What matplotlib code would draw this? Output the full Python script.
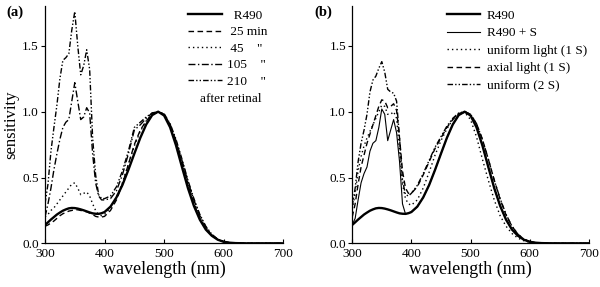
import matplotlib
matplotlib.use("Agg")
import matplotlib.pyplot as plt
from matplotlib.lines import Line2D

plt.rcParams['font.family'] = ['Liberation Serif', 'DejaVu Serif']

# wavelength grid (nm)
wl = [300, 305, 310, 315, 320, 325, 330, 335, 340, 345, 350, 355, 360, 365, 370, 375, 380, 385, 390, 395, 400,
      410, 420, 430, 440, 450, 460, 470, 480, 490, 500, 510, 520, 530, 540, 550, 560, 570, 580, 590, 600,
      610, 620, 630, 640, 650, 660, 670, 680, 690, 700]

tail0 = [0, 0, 0, 0, 0, 0, 0]

r490 = [0.140, 0.160, 0.181, 0.200, 0.219, 0.234, 0.248, 0.258, 0.266, 0.269, 0.268, 0.264, 0.258, 0.251, 0.243, 0.235, 0.228, 0.225, 0.224, 0.229, 0.238,
        0.279, 0.349, 0.443, 0.558, 0.681, 0.801, 0.903, 0.974, 1.0, 0.971, 0.882, 0.744, 0.580, 0.420, 0.285, 0.180, 0.105, 0.058, 0.028, 0.012,
        0.005, 0.002, 0.001] + tail0

# panel (a): after retinal
min25 = [0.13, 0.14, 0.155, 0.17, 0.19, 0.21, 0.225, 0.235, 0.245, 0.25, 0.255, 0.255, 0.25, 0.245, 0.24, 0.23, 0.22, 0.205, 0.20, 0.20, 0.205,
         0.25, 0.33, 0.45, 0.60, 0.75, 0.86, 0.93, 0.98, 1.0, 0.975, 0.895, 0.765, 0.605, 0.445, 0.30, 0.19, 0.11, 0.06, 0.03, 0.013,
         0.005, 0.002, 0.0] + tail0
min45 = [0.20, 0.22, 0.25, 0.27, 0.30, 0.33, 0.36, 0.39, 0.42, 0.45, 0.46, 0.42, 0.37, 0.38, 0.39, 0.36, 0.30, 0.25, 0.22, 0.21, 0.22,
         0.27, 0.35, 0.46, 0.60, 0.74, 0.85, 0.93, 0.98, 1.0, 0.98, 0.90, 0.775, 0.62, 0.46, 0.315, 0.20, 0.115, 0.06, 0.03, 0.013,
         0.005, 0.002, 0.0] + tail0
min105 = [0.20, 0.30, 0.42, 0.56, 0.68, 0.79, 0.88, 0.92, 0.94, 1.08, 1.22, 1.08, 0.94, 0.96, 1.03, 0.99, 0.68, 0.46, 0.36, 0.33, 0.33,
          0.34, 0.40, 0.52, 0.68, 0.86, 0.90, 0.95, 0.99, 1.0, 0.98, 0.905, 0.78, 0.63, 0.47, 0.33, 0.21, 0.125, 0.065, 0.03, 0.013,
          0.005, 0.002, 0.0] + tail0
min210 = [0.30, 0.45, 0.70, 0.88, 1.05, 1.25, 1.39, 1.41, 1.44, 1.62, 1.76, 1.50, 1.28, 1.35, 1.47, 1.32, 0.80, 0.52, 0.37, 0.34, 0.34,
          0.36, 0.43, 0.55, 0.70, 0.88, 0.92, 0.96, 0.99, 1.0, 0.985, 0.91, 0.79, 0.64, 0.48, 0.34, 0.22, 0.13, 0.07, 0.032, 0.013,
          0.005, 0.002, 0.0] + tail0

# panel (b): with sensitizing pigment
r490_s = [0.14, 0.19, 0.33, 0.46, 0.53, 0.58, 0.70, 0.76, 0.78, 0.88, 1.02, 0.98, 0.78, 0.86, 0.94, 0.84, 0.62, 0.30, 0.224, 0.229, 0.238,
          0.279, 0.349, 0.443, 0.558, 0.681, 0.801, 0.903, 0.974, 1.0, 0.971, 0.882, 0.744, 0.580, 0.420, 0.285, 0.180, 0.105, 0.058, 0.028, 0.012,
          0.005, 0.002, 0.001] + tail0
uniform1 = [0.26, 0.38, 0.55, 0.66, 0.74, 0.80, 0.85, 0.90, 0.95, 1.00, 1.05, 1.04, 0.98, 0.98, 1.00, 0.95, 0.70, 0.45, 0.34, 0.30, 0.29,
            0.33, 0.42, 0.54, 0.67, 0.78, 0.87, 0.94, 0.985, 0.995, 0.94, 0.81, 0.64, 0.48, 0.33, 0.21, 0.13, 0.075, 0.04, 0.02, 0.008,
            0.003, 0.001, 0.0] + tail0
axial1 = [0.20, 0.30, 0.45, 0.58, 0.67, 0.76, 0.83, 0.90, 0.97, 1.04, 1.09, 1.08, 1.03, 1.04, 1.06, 1.01, 0.80, 0.55, 0.42, 0.38, 0.38,
          0.43, 0.52, 0.62, 0.72, 0.80, 0.88, 0.94, 0.985, 1.0, 0.98, 0.91, 0.79, 0.64, 0.48, 0.335, 0.215, 0.13, 0.07, 0.032, 0.013,
          0.005, 0.002, 0.0] + tail0
uniform2 = [0.28, 0.42, 0.62, 0.76, 0.86, 0.98, 1.15, 1.24, 1.27, 1.33, 1.38, 1.30, 1.17, 1.15, 1.14, 1.08, 0.80, 0.48, 0.37, 0.36, 0.38,
            0.44, 0.53, 0.63, 0.73, 0.81, 0.89, 0.95, 0.99, 1.0, 0.98, 0.91, 0.79, 0.64, 0.48, 0.34, 0.22, 0.13, 0.07, 0.032, 0.013,
            0.005, 0.002, 0.0] + tail0

labels_a = ["  R490", " 25 min", " 45    \"", "105    \"", "210    \""]
labels_b = ["R490", "R490 + S", "uniform light (1 S)", "axial light (1 S)", "uniform (2 S)"]

DASH = (0, (4, 2.5))
DOT = (0, (1, 2.2))
DASHDOT = (0, (5, 1.8, 1, 1.8))
DASHDOTDOT = (0, (4, 1.5, 1, 1.5, 1, 1.5))

fig = plt.figure(figsize=(6.0, 2.87), dpi=100)
axa = fig.add_axes([0.075, 0.152, 0.397, 0.826])
axb = fig.add_axes([0.587, 0.152, 0.3945, 0.826])

axa.plot(wl, r490, color='black', lw=1.7, ls='-')
axa.plot(wl, min25, color='black', lw=1.0, ls=DASH)
axa.plot(wl, min45, color='black', lw=1.0, ls=DOT)
axa.plot(wl, min105, color='black', lw=1.0, ls=DASHDOT)
axa.plot(wl, min210, color='black', lw=1.0, ls=DASHDOTDOT)

axb.plot(wl, r490, color='black', lw=1.7, ls='-')
axb.plot(wl, r490_s, color='black', lw=0.8, ls='-')
axb.plot(wl, uniform1, color='black', lw=1.0, ls=DOT)
axb.plot(wl, axial1, color='black', lw=1.0, ls=DASH)
axb.plot(wl, uniform2, color='black', lw=1.0, ls=DASHDOTDOT)

for ax in (axa, axb):
    ax.set_xlim(300, 700)
    ax.set_ylim(0, 1.8)
    ax.set_xticks([300, 400, 500, 600, 700])
    ax.set_yticks([0.0, 0.5, 1.0, 1.5])
    ax.set_yticklabels(["0.0", "0.5", "1.0", "1.5"])
    ax.spines['top'].set_visible(False)
    ax.spines['right'].set_visible(False)
    ax.spines['left'].set_linewidth(0.9)
    ax.spines['bottom'].set_linewidth(0.9)
    ax.tick_params(axis='x', direction='in', length=3, width=0.8, labelsize=9.5, pad=3)
    ax.tick_params(axis='y', direction='out', length=3, width=0.8, labelsize=9.5, pad=1.5)
    ax.set_xlabel("wavelength (nm)", fontsize=13, labelpad=1)

axa.set_ylabel("sensitivity", fontsize=12, labelpad=2)

handles_a = [Line2D([], [], color='black', lw=1.7, ls='-'),
             Line2D([], [], color='black', lw=1.0, ls=DASH),
             Line2D([], [], color='black', lw=1.0, ls=DOT),
             Line2D([], [], color='black', lw=1.0, ls=DASHDOT),
             Line2D([], [], color='black', lw=1.0, ls=DASHDOTDOT)]
handles_b = [Line2D([], [], color='black', lw=1.7, ls='-'),
             Line2D([], [], color='black', lw=0.8, ls='-'),
             Line2D([], [], color='black', lw=1.0, ls=DOT),
             Line2D([], [], color='black', lw=1.0, ls=DASH),
             Line2D([], [], color='black', lw=1.0, ls=DASHDOTDOT)]

axa.legend(handles_a, labels_a, loc='upper left', bbox_to_anchor=(0.56, 1.025), frameon=False,
           fontsize=9.5, handlelength=2.6, handletextpad=0.4, labelspacing=0.32, borderpad=0.2)
axa.text(0.91, 0.608, "after retinal", transform=axa.transAxes, ha='right', va='center', fontsize=9.5)

axb.legend(handles_b, labels_b, loc='upper left', bbox_to_anchor=(0.36, 1.025), frameon=False,
           fontsize=9.5, handlelength=2.5, handletextpad=0.55, labelspacing=0.4, borderpad=0.2)

fig.text(15 / 600, 1 - 12 / 287, "(a)", fontsize=10.5, fontweight='bold', ha='center', va='center')
fig.text(323 / 600, 1 - 12 / 287, "(b)", fontsize=10.5, fontweight='bold', ha='center', va='center')

fig.savefig("out.png", dpi=100)
